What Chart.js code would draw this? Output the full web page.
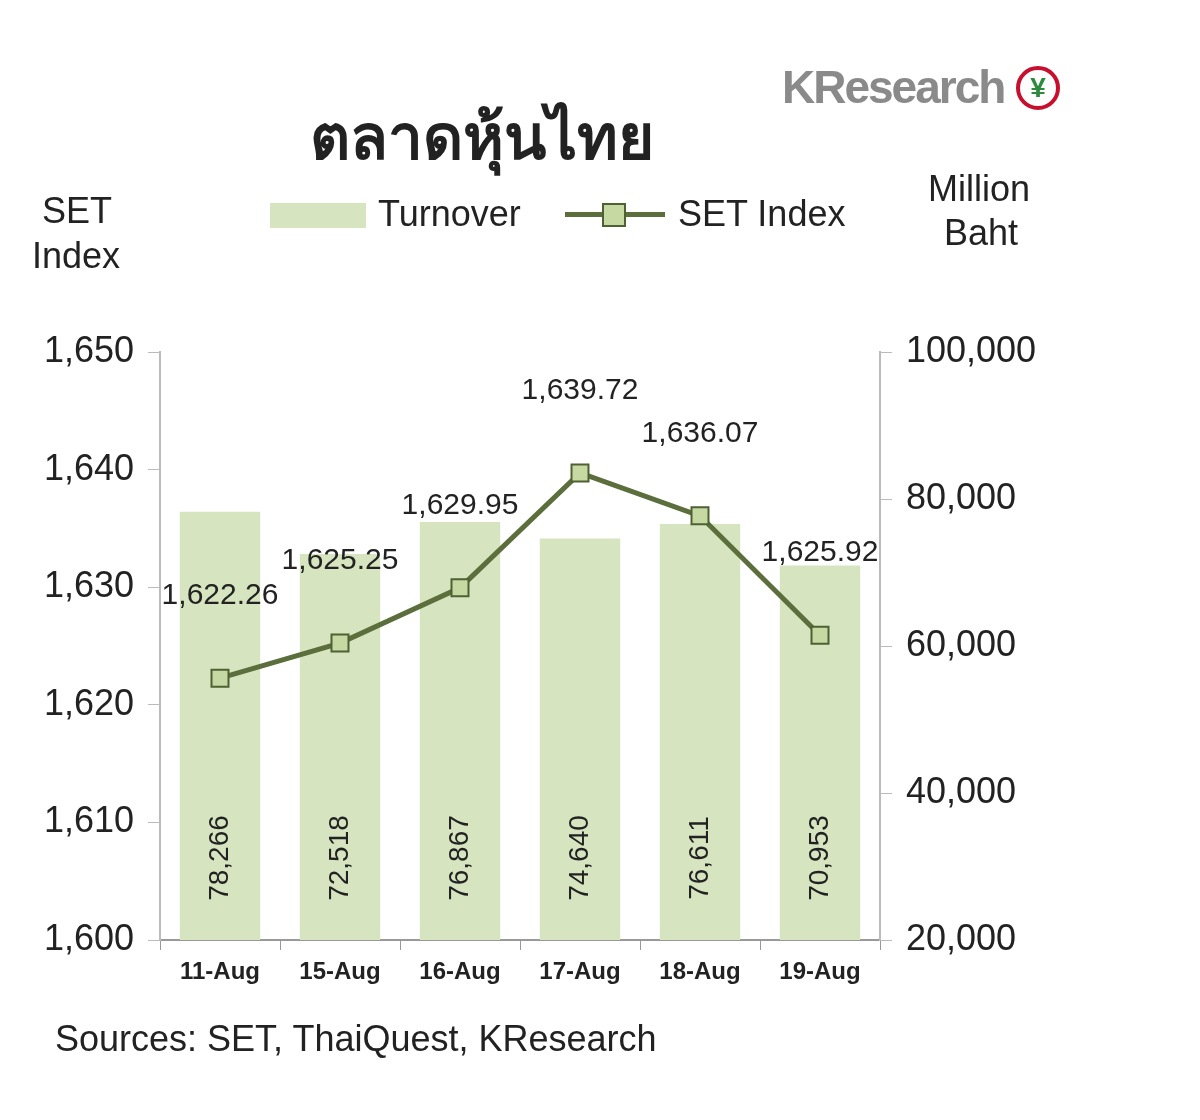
<!DOCTYPE html>
<html lang="th">
<head>
<meta charset="UTF-8">
<title>ตลาดหุ้นไทย</title>
<script src="https://cdn.jsdelivr.net/npm/chart.js"></script>
<style>
  body { margin: 0; background: #fff; font-family: "Liberation Sans", Arial, sans-serif; }
  #wrap { position: relative; width: 1200px; height: 1120px; }
  canvas { position: absolute; left: 0; top: 0; }
  .t { position: absolute; color: #222; white-space: nowrap; }
</style>
</head>
<body>
<div id="wrap">
  <canvas id="chart" width="1200" height="1120"></canvas>
  <div class="t" style="left:310px;top:88px;font:bold 62px 'Noto Sans', sans-serif;">ตลาดหุ้นไทย</div>
  <div class="t" style="left:782px;top:60px;font:bold 46px 'Liberation Sans';color:#8a8a8a;letter-spacing:-2px;">KResearch</div>
  <div class="t" style="left:1016px;top:66px;width:44px;height:44px;border:4px solid #c8102e;border-radius:50%;box-sizing:border-box;color:#2e8b3e;font:bold 28px sans-serif;text-align:center;line-height:36px;">¥</div>
  <div class="t" style="left:42px;top:190px;font:36px 'Liberation Sans';">SET</div>
  <div class="t" style="left:32px;top:235px;font:36px 'Liberation Sans';">Index</div>
  <div class="t" style="left:928px;top:168px;font:36px 'Liberation Sans';">Million</div>
  <div class="t" style="left:944px;top:212px;font:36px 'Liberation Sans';">Baht</div>
  <div class="t" style="left:270px;top:203px;width:96px;height:25px;background:#d6e4bf;"></div>
  <div class="t" style="left:378px;top:193px;font:36px 'Liberation Sans';">Turnover</div>
  <div class="t" style="left:565px;top:212px;width:100px;height:5px;background:#5b6e3c;"></div>
  <div class="t" style="left:602px;top:203px;width:20px;height:20px;background:#c6d9a3;border:2px solid #4e6132;"></div>
  <div class="t" style="left:678px;top:193px;font:36px 'Liberation Sans';">SET Index</div>
  <div class="t" style="left:55px;top:1018px;font:36px 'Liberation Sans';">Sources: SET, ThaiQuest, KResearch</div>
</div>
<script>
const dates = ['11-Aug', '15-Aug', '16-Aug', '17-Aug', '18-Aug', '19-Aug'];
const turnover = [78266, 72518, 76867, 74640, 76611, 70953];
const setIndex = [1622.26, 1625.25, 1629.95, 1639.72, 1636.07, 1625.92];

const fmt = (v, d) => v.toLocaleString('en-US', { minimumFractionDigits: d, maximumFractionDigits: d });

const labelPlugin = {
  id: 'labels',
  afterDatasetsDraw(chart) {
    const ctx = chart.ctx;
    ctx.save();
    ctx.fillStyle = '#222';
    ctx.textAlign = 'center';
    ctx.textBaseline = 'middle';
    // bar values, rotated
    chart.getDatasetMeta(1).data.forEach((bar, i) => {
      ctx.save();
      ctx.translate(bar.x, 858);
      ctx.rotate(-Math.PI / 2);
      ctx.font = '28px "Liberation Sans"';
      ctx.fillText(fmt(turnover[i], 0), 0, 0);
      ctx.restore();
    });
    // line values
    ctx.font = '30px "Liberation Sans"';
    chart.getDatasetMeta(0).data.forEach((pt, i) => {
      ctx.fillText(fmt(setIndex[i], 2), pt.x, pt.y - 82);
    });
    ctx.restore();
  }
};

new Chart(document.getElementById('chart'), {
  type: 'bar',
  data: {
    labels: dates,
    datasets: [
      { type: 'line', label: 'SET Index', data: setIndex, yAxisID: 'y', borderColor: '#5b6e3c',
        borderWidth: 5, pointStyle: 'rect', pointRadius: 12, pointBackgroundColor: '#c6d9a3',
        pointBorderColor: '#4e6132', pointBorderWidth: 2, order: 0 },
      { type: 'bar', label: 'Turnover', data: turnover, yAxisID: 'y1', backgroundColor: '#d6e4bf',
        categoryPercentage: 1, barPercentage: 0.67, order: 1 }
    ]
  },
  options: {
    responsive: false,
    animation: false,
    layout: { padding: { top: 352, left: 0, right: 0, bottom: 0 } },
    plugins: { legend: { display: false }, tooltip: { enabled: false } },
    scales: {
      x: {
        afterFit: s => { s.height = 180; },
        grid: { drawOnChartArea: false, color: '#999', tickLength: 10, offset: true },
        border: { color: '#999', width: 2 },
        ticks: { color: '#222', font: { size: 24, family: 'Liberation Sans', weight: 'bold' }, padding: 8 }
      },
      y: {
        position: 'left', min: 1600, max: 1650,
        afterFit: s => { s.width = 160; },
        grid: { drawOnChartArea: false, color: '#bbb', tickLength: 12 },
        border: { color: '#bbb', width: 2 },
        ticks: { stepSize: 10, color: '#222', font: { size: 36, family: 'Liberation Sans' }, padding: 14,
                 callback: v => fmt(v, 0) }
      },
      y1: {
        position: 'right', min: 20000, max: 100000,
        afterFit: s => { s.width = 320; },
        grid: { drawOnChartArea: false, color: '#bbb', tickLength: 12 },
        border: { color: '#bbb', width: 2 },
        ticks: { stepSize: 20000, color: '#222', font: { size: 36, family: 'Liberation Sans' }, padding: 14,
                 callback: v => fmt(v, 0) }
      }
    }
  },
  plugins: [labelPlugin]
});
</script>
</body>
</html>
